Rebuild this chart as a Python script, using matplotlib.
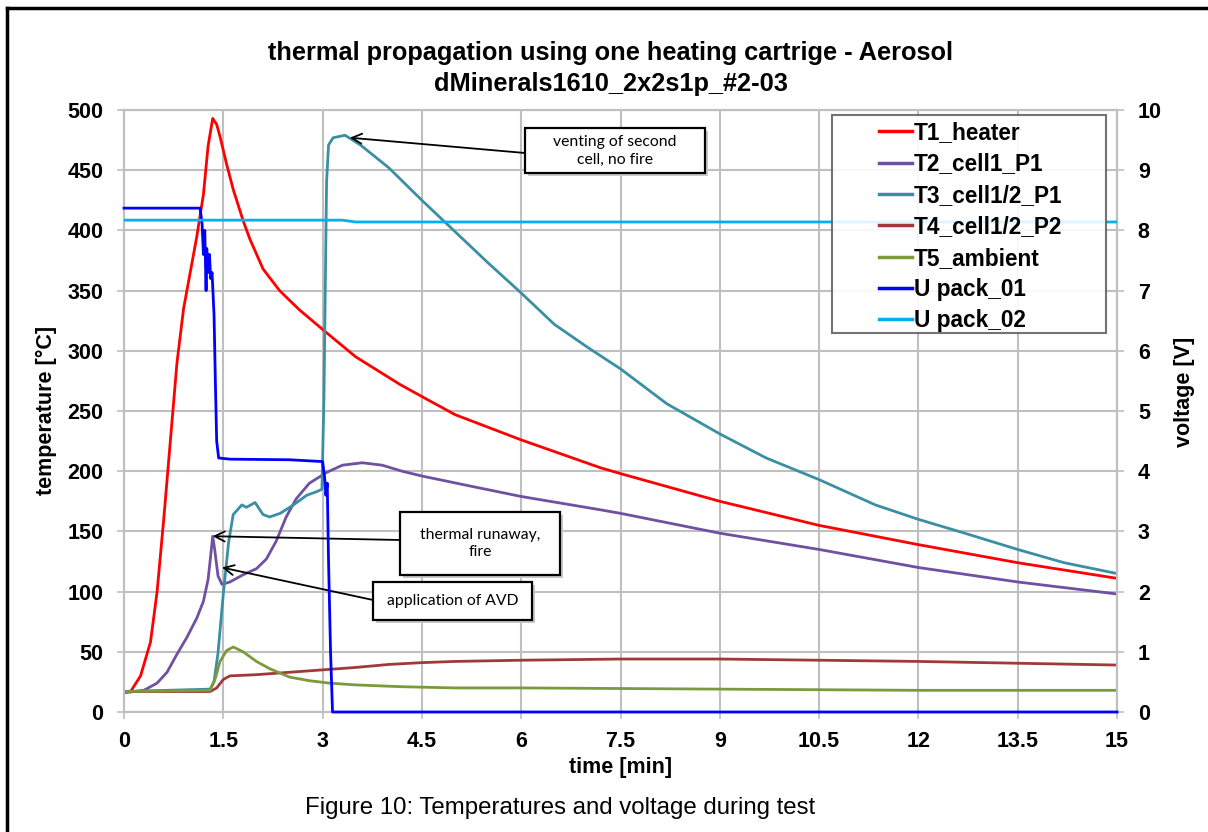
import matplotlib
matplotlib.use("Agg")
import matplotlib.pyplot as plt
from matplotlib.lines import Line2D
from matplotlib.patches import Rectangle

# ---------------- data ----------------
t1_x = [0.1, 0.25, 0.4, 0.5, 0.6, 0.7, 0.8, 0.9, 1.0, 1.1, 1.2, 1.27, 1.34, 1.4, 1.45,
        1.55, 1.65, 1.8, 1.9, 2.1, 2.35, 2.65, 3.06, 3.5, 4.17, 4.5, 5.0, 6.0, 7.19,
        7.5, 9.0, 10.5, 12.0, 13.5, 15.0]
t1_y = [17, 30, 58, 100, 160, 225, 290, 335, 365, 395, 430, 470, 493, 488, 478,
        455, 434, 408, 393, 368, 350, 334, 315, 295, 272, 262, 247, 226, 203,
        198, 175, 155, 139, 124, 111]

t2_x = [0, 0.3, 0.5, 0.65, 0.8, 0.95, 1.1, 1.2, 1.27, 1.3, 1.34, 1.37, 1.42, 1.48,
        1.6, 1.8, 2.0, 2.15, 2.3, 2.45, 2.6, 2.8, 3.06, 3.3, 3.6, 3.9, 4.2, 4.5,
        5.2, 6.0, 7.19, 7.5, 9.0, 10.5, 12.0, 13.5, 15.0]
t2_y = [16, 18, 24, 33, 48, 62, 78, 92, 110, 125, 146, 135, 113, 106,
        108, 114, 119, 127, 142, 162, 177, 190, 199, 205, 207, 205, 200, 196,
        188, 179, 168, 165, 148.5, 135, 120, 108, 98]

t3_x = [0, 1.3, 1.36, 1.42, 1.5, 1.58, 1.65, 1.78, 1.85, 1.98, 2.1, 2.2, 2.36, 2.56,
        2.76, 2.91, 2.99, 3.02, 3.06, 3.09, 3.16, 3.34, 3.57, 3.82, 4.0, 4.5, 5.0,
        5.5, 6.0, 6.5, 7.0, 7.5, 8.2, 9.0, 9.7, 10.5, 11.35, 12.0, 12.7, 13.5,
        14.2, 15.0]
t3_y = [17, 19, 25, 49, 98, 141, 164, 172, 170, 174, 164, 162, 165, 172,
        180, 183, 185, 260, 440, 471, 477, 479, 471, 460, 452, 425, 399,
        373, 348, 322, 303, 285, 256, 231, 211, 193, 172, 160, 148.5, 135,
        124, 115]

t4_x = [0, 1.3, 1.4, 1.5, 1.6, 2.0, 2.5, 3.0, 3.5, 4.0, 4.5, 5.0, 6.0, 7.5, 9.0,
        10.5, 12.0, 13.5, 15.0]
t4_y = [17, 17, 20, 27, 30, 31, 33, 35, 37, 39.5, 41, 42, 43, 44, 44,
        43, 42, 40.5, 39]

t5_x = [0, 1.3, 1.38, 1.45, 1.55, 1.65, 1.8, 2.0, 2.2, 2.5, 2.8, 3.1, 3.5, 4.2,
        5.0, 6.0, 7.5, 9.0, 10.5, 12.0, 15.0]
t5_y = [17, 18, 28, 42, 51, 54, 50, 42, 36, 29, 26, 24, 22.5, 21,
        20, 20, 19.5, 19, 18.5, 18, 18]

u1_x = [0, 1.15, 1.18, 1.2, 1.22, 1.24, 1.25, 1.27, 1.29, 1.31, 1.33, 1.36, 1.38,
        1.40, 1.43, 1.6, 2.5, 3.0, 3.03, 3.05, 3.07, 3.09, 3.12, 3.15, 15.0]
u1_y = [8.37, 8.37, 8.1, 7.6, 8.0, 7.0, 7.7, 7.3, 7.6, 7.2, 7.3, 6.6, 5.5,
        4.5, 4.22, 4.2, 4.19, 4.16, 3.9, 3.6, 3.8, 2.5, 1.0, 0.0, 0.0]

u2_x = [0, 3.3, 3.5, 15.0]
u2_y = [8.17, 8.17, 8.14, 8.14]

series_names = ["T1_heater", "T2_cell1_P1", "T3_cell1/2_P1", "T4_cell1/2_P2",
                "T5_ambient", "U pack_01", "U pack_02"]
x_ticks = [0, 1.5, 3, 4.5, 6, 7.5, 9, 10.5, 12, 13.5, 15]
x_tick_labels = ["0", "1.5", "3", "4.5", "6", "7.5", "9", "10.5", "12", "13.5", "15"]
y_ticks = list(range(0, 501, 50))
v_ticks = list(range(0, 11))

colors = ["#FF0000", "#7050A0", "#3A8FA3", "#A03A3A", "#7A9A3C", "#0000FF", "#00B0F0"]

# ---------------- figure ----------------
W, H = 1208, 832
fig = plt.figure(figsize=(W / 100, H / 100), dpi=100)
plt.rcParams['font.family'] = ['Liberation Sans', 'DejaVu Sans']

left, right, top, bottom = 124, 1117, 110, 712
ax = fig.add_axes([left / W, 1 - bottom / H, (right - left) / W, (bottom - top) / H])
ax2 = ax.twinx()


def fx(px):
    return (px - left) / (right - left)


def fy(py):
    return 1 - (py - top) / (bottom - top)


grid_c = "#BFBFBF"
lw = 2.0
ax.plot(t1_x, t1_y, color=colors[0], lw=lw)
ax.plot(t2_x, t2_y, color=colors[1], lw=lw)
ax.plot(t3_x, t3_y, color=colors[2], lw=lw)
ax.plot(t4_x, t4_y, color=colors[3], lw=lw)
ax.plot(t5_x, t5_y, color=colors[4], lw=lw)
ax2.plot(u1_x, u1_y, color=colors[5], lw=lw, zorder=3, clip_on=False)
ax2.plot(u2_x, u2_y, color=colors[6], lw=lw, zorder=3)

ax.set_xlim(0, 15)
ax.set_ylim(0, 500)
ax2.set_ylim(0, 10)
ax.set_xticks(x_ticks)
ax.set_xticklabels(x_tick_labels)
ax.set_yticks(y_ticks)
ax2.set_yticks(v_ticks)
ax.grid(True, color=grid_c, lw=1.5)
ax.set_axisbelow(True)

for a in (ax, ax2):
    for s in a.spines.values():
        s.set_color(grid_c)
        s.set_linewidth(1.5)
    a.tick_params(axis="y", length=5, width=1.2, color=grid_c, labelsize=15.5, pad=10)
    a.tick_params(axis="x", length=5, width=1.2, color=grid_c, labelsize=15.5, pad=9)
    for lab in a.get_xticklabels() + a.get_yticklabels():
        lab.set_fontweight("bold")

ax.set_xlabel("time [min]", fontsize=15.5, fontweight="bold", labelpad=3)
ax.set_ylabel("temperature [°C]", fontsize=15.5, fontweight="bold")
ax.yaxis.set_label_coords(fx(57), fy(410))
ax2.set_ylabel("voltage [V]", fontsize=15.5, fontweight="bold", rotation=90)
ax2.yaxis.set_label_coords(fx(1174), fy(392))

fig.text(611 / W, 1 - 53 / H, "thermal propagation using one heating cartrige - Aerosol",
         ha="center", va="center", fontsize=18.3, fontweight="bold")
fig.text(611 / W, 1 - 84 / H, "dMinerals1610_2x2s1p_#2-03",
         ha="center", va="center", fontsize=18.3, fontweight="bold")
fig.text(560 / W, 1 - 808 / H, "Figure 10: Temperatures and voltage during test",
         ha="center", va="center", fontsize=17.3)

# legend (manual frame)
handles = [Line2D([0], [0], color=c, lw=2.5) for c in colors]
leg = ax2.legend(handles, series_names, loc="upper left",
                 bbox_to_anchor=(fx(870), fy(112)),
                 frameon=False, fontsize=16.3, handlelength=1.45, handletextpad=0.1,
                 labelspacing=0.37, borderaxespad=0)
for tx in leg.get_texts():
    tx.set_fontweight("bold")
bx0, bx1, by0, by1 = 832, 1106, 115, 333
ax2.add_patch(Rectangle((fx(bx0), fy(by1)), fx(bx1) - fx(bx0), fy(by0) - fy(by1),
                        transform=ax2.transAxes, facecolor="white", alpha=0.88,
                        edgecolor="#606060", lw=1.5, zorder=4))
leg.set_zorder(5)

# annotation boxes (pixel extents from reference)
afont = dict(fontsize=11.3, family=["Lato", "DejaVu Sans"], ha="center", va="center",
             linespacing=1.35, transform=ax2.transAxes, zorder=8)
arrow = dict(arrowstyle="->", color="black", lw=1.3, mutation_scale=18, shrinkA=0, shrinkB=0)


def note(text, x0, x1, y0, y1, start, target):
    ax2.add_patch(Rectangle((fx(x0 + 3), fy(y1 + 3)), fx(x1) - fx(x0), fy(y0) - fy(y1),
                            transform=ax2.transAxes, facecolor="#C8C8C8", edgecolor="none",
                            zorder=6, clip_on=False))
    ax2.add_patch(Rectangle((fx(x0), fy(y1)), fx(x1) - fx(x0), fy(y0) - fy(y1),
                            transform=ax2.transAxes, facecolor="white", edgecolor="black",
                            lw=1.6, zorder=7, clip_on=False))
    ax2.text(fx((x0 + x1) / 2), fy((y0 + y1) / 2), text, **afont)
    ax.annotate("", xy=target, xycoords="data",
                xytext=(fx(start[0]), fy(start[1])), textcoords="axes fraction",
                arrowprops=arrow, zorder=6)


note("venting of second\ncell, no fire", 525, 705, 128, 173, (525, 153), (3.41, 477))
note("thermal runaway,\nfire", 400, 560, 512, 575, (400, 540), (1.34, 146))
note("application of AVD", 373, 532, 582, 620, (373, 600), (1.48, 120))

# outer frame lines (left and top)
fig.add_artist(Line2D([7 / W, 7 / W], [0, 1 - 8 / H], transform=fig.transFigure,
                      color="black", lw=2.5))
fig.add_artist(Line2D([7 / W, 1], [1 - 8 / H, 1 - 8 / H], transform=fig.transFigure,
                      color="black", lw=2.5))

fig.savefig("out.png", dpi=100)
